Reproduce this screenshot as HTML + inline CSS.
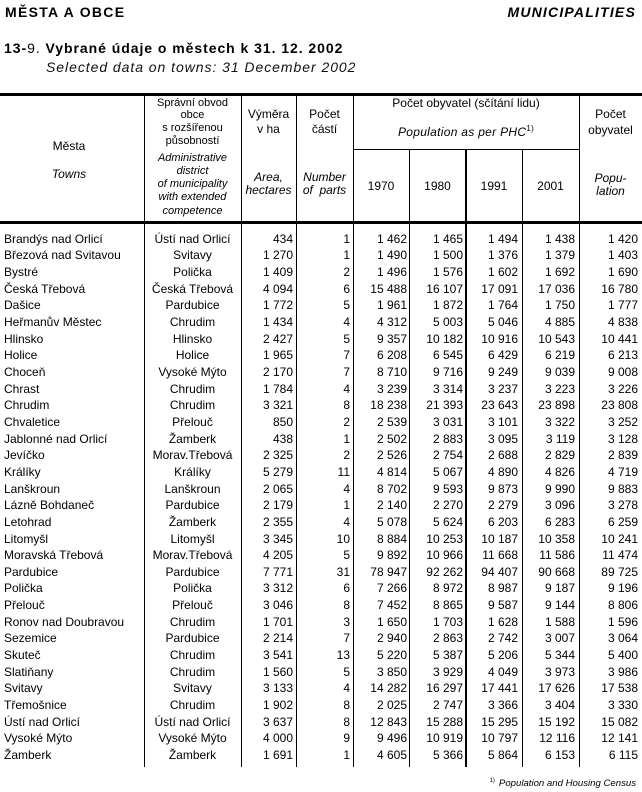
<!DOCTYPE html>
<html>
<head>
<meta charset="utf-8">
<style>
html,body{margin:0;padding:0;background:#fff;}
body{width:642px;height:792px;position:relative;overflow:hidden;font-family:"Liberation Sans",Arial,sans-serif;color:#000;}
.t{position:absolute;white-space:nowrap;line-height:1;}
.ln{position:absolute;background:#000;}
.h12{font-size:12px;}
.h11{font-size:11px;}
.i{font-style:italic;}
.row{position:absolute;left:0;width:642px;height:12px;font-size:12px;line-height:12px;}
.row span{position:absolute;top:0;white-space:nowrap;}
.c1{left:4px;}
.c2{left:144px;width:97px;text-align:center;}
.c3{left:241px;width:52px;text-align:right;}
.c4{left:296px;width:54px;text-align:right;}
.c5{left:353px;width:54px;text-align:right;}
.c6{left:409px;width:54px;text-align:right;}
.c7{left:466px;width:52px;text-align:right;}
.c8{left:522px;width:53px;text-align:right;}
.c9{left:579px;width:59px;text-align:right;}
</style>
</head>
<body>

<!-- top headings -->
<div class="t" style="left:5px;top:5.2px;font-size:14px;font-weight:bold;letter-spacing:1.3px;">MĚSTA A OBCE</div>
<div class="t" style="right:6px;top:5.2px;font-size:14px;font-weight:bold;font-style:italic;letter-spacing:1.2px;">MUNICIPALITIES</div>
<div class="t" style="left:4px;top:40.6px;font-size:14px;font-weight:bold;letter-spacing:0.95px;">13-<span style="font-weight:normal;">9.</span> Vybrané údaje o městech k 31. 12. 2002</div>
<div class="t" style="left:46px;top:60.2px;font-size:14px;font-style:italic;letter-spacing:0.95px;color:#111;">Selected data on towns: 31 December 2002</div>

<!-- rules -->
<div class="ln" style="left:0;top:93px;width:642px;height:3px;"></div>
<div class="ln" style="left:0;top:221px;width:642px;height:3px;"></div>
<div class="ln" style="left:353px;top:149px;width:226px;height:1px;"></div>

<div class="ln" style="left:144px;top:96px;width:1px;height:671px;"></div>
<div class="ln" style="left:241px;top:96px;width:1px;height:671px;"></div>
<div class="ln" style="left:296px;top:96px;width:1px;height:671px;"></div>
<div class="ln" style="left:353px;top:96px;width:1px;height:671px;"></div>
<div class="ln" style="left:579px;top:96px;width:1px;height:671px;"></div>
<div class="ln" style="left:409px;top:149px;width:1px;height:618px;"></div>
<div class="ln" style="left:465px;top:149px;width:2px;height:618px;"></div>
<div class="ln" style="left:522px;top:149px;width:1px;height:618px;"></div>

<!-- header texts -->
<div class="t h12" style="left:0;width:138px;text-align:center;top:139.8px;">Města</div>
<div class="t h12 i" style="left:0;width:138px;text-align:center;top:168.4px;">Towns</div>

<div class="t h11" style="left:144px;width:97px;text-align:center;top:97.7px;">Správní obvod</div>
<div class="t h11" style="left:144px;width:97px;text-align:center;top:110.4px;">obce</div>
<div class="t h11" style="left:144px;width:97px;text-align:center;top:123.0px;">s rozšířenou</div>
<div class="t h11" style="left:144px;width:97px;text-align:center;top:135.7px;">působností</div>
<div class="t h11 i" style="left:144px;width:97px;text-align:center;top:152.7px;">Administrative</div>
<div class="t h11 i" style="left:144px;width:97px;text-align:center;top:165.9px;">district</div>
<div class="t h11 i" style="left:144px;width:97px;text-align:center;top:179.1px;">of municipality</div>
<div class="t h11 i" style="left:144px;width:97px;text-align:center;top:192.3px;">with extended</div>
<div class="t h11 i" style="left:144px;width:97px;text-align:center;top:205.5px;">competence</div>

<div class="t h12" style="left:241px;width:55px;text-align:center;top:108.3px;">Výměra</div>
<div class="t h12" style="left:241px;width:55px;text-align:center;top:122.8px;">v ha</div>
<div class="t h12 i" style="left:241px;width:55px;text-align:center;top:170.8px;">Area,</div>
<div class="t h12 i" style="left:241px;width:55px;text-align:center;top:184.3px;">hectares</div>

<div class="t h12" style="left:296px;width:57px;text-align:center;top:108.3px;">Počet</div>
<div class="t h12" style="left:296px;width:57px;text-align:center;top:122.8px;">částí</div>
<div class="t h12 i" style="left:296px;width:57px;text-align:center;top:170.8px;">Number</div>
<div class="t h12 i" style="left:296px;width:57px;text-align:center;top:184.3px;">of&nbsp; parts</div>

<div class="t h12" style="left:353px;width:226px;text-align:center;top:97.1px;">Počet obyvatel (sčítání lidu)</div>
<div class="t h12 i" style="left:353px;width:226px;text-align:center;top:126.1px;letter-spacing:0.3px;">Population as per PHC<span style="font-size:8px;position:relative;top:-5px;font-style:normal;">1)</span></div>

<div class="t h12" style="left:353px;width:56px;text-align:center;top:179.8px;">1970</div>
<div class="t h12" style="left:409px;width:57px;text-align:center;top:179.8px;">1980</div>
<div class="t h12" style="left:466px;width:56px;text-align:center;top:179.8px;">1991</div>
<div class="t h12" style="left:522px;width:57px;text-align:center;top:179.8px;">2001</div>

<div class="t h12" style="left:579px;width:63px;text-align:center;top:107.8px;">Počet</div>
<div class="t h12" style="left:579px;width:63px;text-align:center;top:123.8px;">obyvatel</div>
<div class="t h12 i" style="left:579px;width:63px;text-align:center;top:171.8px;">Popu-</div>
<div class="t h12 i" style="left:579px;width:63px;text-align:center;top:185.3px;">lation</div>

<!-- data rows -->
<div class="row" style="top:232.84px"><span class="c1">Brandýs nad Orlicí</span><span class="c2">Ústí nad Orlicí</span><span class="c3">434</span><span class="c4">1</span><span class="c5">1 462</span><span class="c6">1 465</span><span class="c7">1 494</span><span class="c8">1 438</span><span class="c9">1 420</span></div>
<div class="row" style="top:249.49px"><span class="c1">Březová nad Svitavou</span><span class="c2">Svitavy</span><span class="c3">1 270</span><span class="c4">1</span><span class="c5">1 490</span><span class="c6">1 500</span><span class="c7">1 376</span><span class="c8">1 379</span><span class="c9">1 403</span></div>
<div class="row" style="top:266.14px"><span class="c1">Bystré</span><span class="c2">Polička</span><span class="c3">1 409</span><span class="c4">2</span><span class="c5">1 496</span><span class="c6">1 576</span><span class="c7">1 602</span><span class="c8">1 692</span><span class="c9">1 690</span></div>
<div class="row" style="top:282.79px"><span class="c1">Česká Třebová</span><span class="c2">Česká Třebová</span><span class="c3">4 094</span><span class="c4">6</span><span class="c5">15 488</span><span class="c6">16 107</span><span class="c7">17 091</span><span class="c8">17 036</span><span class="c9">16 780</span></div>
<div class="row" style="top:299.44px"><span class="c1">Dašice</span><span class="c2">Pardubice</span><span class="c3">1 772</span><span class="c4">5</span><span class="c5">1 961</span><span class="c6">1 872</span><span class="c7">1 764</span><span class="c8">1 750</span><span class="c9">1 777</span></div>
<div class="row" style="top:316.09px"><span class="c1">Heřmanův Městec</span><span class="c2">Chrudim</span><span class="c3">1 434</span><span class="c4">4</span><span class="c5">4 312</span><span class="c6">5 003</span><span class="c7">5 046</span><span class="c8">4 885</span><span class="c9">4 838</span></div>
<div class="row" style="top:332.74px"><span class="c1">Hlinsko</span><span class="c2">Hlinsko</span><span class="c3">2 427</span><span class="c4">5</span><span class="c5">9 357</span><span class="c6">10 182</span><span class="c7">10 916</span><span class="c8">10 543</span><span class="c9">10 441</span></div>
<div class="row" style="top:349.39px"><span class="c1">Holice</span><span class="c2">Holice</span><span class="c3">1 965</span><span class="c4">7</span><span class="c5">6 208</span><span class="c6">6 545</span><span class="c7">6 429</span><span class="c8">6 219</span><span class="c9">6 213</span></div>
<div class="row" style="top:366.04px"><span class="c1">Choceň</span><span class="c2">Vysoké Mýto</span><span class="c3">2 170</span><span class="c4">7</span><span class="c5">8 710</span><span class="c6">9 716</span><span class="c7">9 249</span><span class="c8">9 039</span><span class="c9">9 008</span></div>
<div class="row" style="top:382.69px"><span class="c1">Chrast</span><span class="c2">Chrudim</span><span class="c3">1 784</span><span class="c4">4</span><span class="c5">3 239</span><span class="c6">3 314</span><span class="c7">3 237</span><span class="c8">3 223</span><span class="c9">3 226</span></div>
<div class="row" style="top:399.34px"><span class="c1">Chrudim</span><span class="c2">Chrudim</span><span class="c3">3 321</span><span class="c4">8</span><span class="c5">18 238</span><span class="c6">21 393</span><span class="c7">23 643</span><span class="c8">23 898</span><span class="c9">23 808</span></div>
<div class="row" style="top:415.99px"><span class="c1">Chvaletice</span><span class="c2">Přelouč</span><span class="c3">850</span><span class="c4">2</span><span class="c5">2 539</span><span class="c6">3 031</span><span class="c7">3 101</span><span class="c8">3 322</span><span class="c9">3 252</span></div>
<div class="row" style="top:432.64px"><span class="c1">Jablonné nad Orlicí</span><span class="c2">Žamberk</span><span class="c3">438</span><span class="c4">1</span><span class="c5">2 502</span><span class="c6">2 883</span><span class="c7">3 095</span><span class="c8">3 119</span><span class="c9">3 128</span></div>
<div class="row" style="top:449.29px"><span class="c1">Jevíčko</span><span class="c2">Morav.Třebová</span><span class="c3">2 325</span><span class="c4">2</span><span class="c5">2 526</span><span class="c6">2 754</span><span class="c7">2 688</span><span class="c8">2 829</span><span class="c9">2 839</span></div>
<div class="row" style="top:465.94px"><span class="c1">Králíky</span><span class="c2">Králíky</span><span class="c3">5 279</span><span class="c4">11</span><span class="c5">4 814</span><span class="c6">5 067</span><span class="c7">4 890</span><span class="c8">4 826</span><span class="c9">4 719</span></div>
<div class="row" style="top:482.59px"><span class="c1">Lanškroun</span><span class="c2">Lanškroun</span><span class="c3">2 065</span><span class="c4">4</span><span class="c5">8 702</span><span class="c6">9 593</span><span class="c7">9 873</span><span class="c8">9 990</span><span class="c9">9 883</span></div>
<div class="row" style="top:499.24px"><span class="c1">Lázně Bohdaneč</span><span class="c2">Pardubice</span><span class="c3">2 179</span><span class="c4">1</span><span class="c5">2 140</span><span class="c6">2 270</span><span class="c7">2 279</span><span class="c8">3 096</span><span class="c9">3 278</span></div>
<div class="row" style="top:515.89px"><span class="c1">Letohrad</span><span class="c2">Žamberk</span><span class="c3">2 355</span><span class="c4">4</span><span class="c5">5 078</span><span class="c6">5 624</span><span class="c7">6 203</span><span class="c8">6 283</span><span class="c9">6 259</span></div>
<div class="row" style="top:532.54px"><span class="c1">Litomyšl</span><span class="c2">Litomyšl</span><span class="c3">3 345</span><span class="c4">10</span><span class="c5">8 884</span><span class="c6">10 253</span><span class="c7">10 187</span><span class="c8">10 358</span><span class="c9">10 241</span></div>
<div class="row" style="top:549.19px"><span class="c1">Moravská Třebová</span><span class="c2">Morav.Třebová</span><span class="c3">4 205</span><span class="c4">5</span><span class="c5">9 892</span><span class="c6">10 966</span><span class="c7">11 668</span><span class="c8">11 586</span><span class="c9">11 474</span></div>
<div class="row" style="top:565.84px"><span class="c1">Pardubice</span><span class="c2">Pardubice</span><span class="c3">7 771</span><span class="c4">31</span><span class="c5">78 947</span><span class="c6">92 262</span><span class="c7">94 407</span><span class="c8">90 668</span><span class="c9">89 725</span></div>
<div class="row" style="top:582.49px"><span class="c1">Polička</span><span class="c2">Polička</span><span class="c3">3 312</span><span class="c4">6</span><span class="c5">7 266</span><span class="c6">8 972</span><span class="c7">8 987</span><span class="c8">9 187</span><span class="c9">9 196</span></div>
<div class="row" style="top:599.14px"><span class="c1">Přelouč</span><span class="c2">Přelouč</span><span class="c3">3 046</span><span class="c4">8</span><span class="c5">7 452</span><span class="c6">8 865</span><span class="c7">9 587</span><span class="c8">9 144</span><span class="c9">8 806</span></div>
<div class="row" style="top:615.79px"><span class="c1">Ronov nad Doubravou</span><span class="c2">Chrudim</span><span class="c3">1 701</span><span class="c4">3</span><span class="c5">1 650</span><span class="c6">1 703</span><span class="c7">1 628</span><span class="c8">1 588</span><span class="c9">1 596</span></div>
<div class="row" style="top:632.44px"><span class="c1">Sezemice</span><span class="c2">Pardubice</span><span class="c3">2 214</span><span class="c4">7</span><span class="c5">2 940</span><span class="c6">2 863</span><span class="c7">2 742</span><span class="c8">3 007</span><span class="c9">3 064</span></div>
<div class="row" style="top:649.09px"><span class="c1">Skuteč</span><span class="c2">Chrudim</span><span class="c3">3 541</span><span class="c4">13</span><span class="c5">5 220</span><span class="c6">5 387</span><span class="c7">5 206</span><span class="c8">5 344</span><span class="c9">5 400</span></div>
<div class="row" style="top:665.74px"><span class="c1">Slatiňany</span><span class="c2">Chrudim</span><span class="c3">1 560</span><span class="c4">5</span><span class="c5">3 850</span><span class="c6">3 929</span><span class="c7">4 049</span><span class="c8">3 973</span><span class="c9">3 986</span></div>
<div class="row" style="top:682.39px"><span class="c1">Svitavy</span><span class="c2">Svitavy</span><span class="c3">3 133</span><span class="c4">4</span><span class="c5">14 282</span><span class="c6">16 297</span><span class="c7">17 441</span><span class="c8">17 626</span><span class="c9">17 538</span></div>
<div class="row" style="top:699.04px"><span class="c1">Třemošnice</span><span class="c2">Chrudim</span><span class="c3">1 902</span><span class="c4">8</span><span class="c5">2 025</span><span class="c6">2 747</span><span class="c7">3 366</span><span class="c8">3 404</span><span class="c9">3 330</span></div>
<div class="row" style="top:715.69px"><span class="c1">Ústí nad Orlicí</span><span class="c2">Ústí nad Orlicí</span><span class="c3">3 637</span><span class="c4">8</span><span class="c5">12 843</span><span class="c6">15 288</span><span class="c7">15 295</span><span class="c8">15 192</span><span class="c9">15 082</span></div>
<div class="row" style="top:732.34px"><span class="c1">Vysoké Mýto</span><span class="c2">Vysoké Mýto</span><span class="c3">4 000</span><span class="c4">9</span><span class="c5">9 496</span><span class="c6">10 919</span><span class="c7">10 797</span><span class="c8">12 116</span><span class="c9">12 141</span></div>
<div class="row" style="top:748.99px"><span class="c1">Žamberk</span><span class="c2">Žamberk</span><span class="c3">1 691</span><span class="c4">1</span><span class="c5">4 605</span><span class="c6">5 366</span><span class="c7">5 864</span><span class="c8">6 153</span><span class="c9">6 115</span></div>

<!-- footnote -->
<div class="t" style="right:6px;top:779px;font-size:9.6px;font-style:italic;"><span style="font-size:6px;font-style:normal;position:relative;top:-4px;margin-right:4px;">1)</span>Population and Housing Census</div>

</body>
</html>
